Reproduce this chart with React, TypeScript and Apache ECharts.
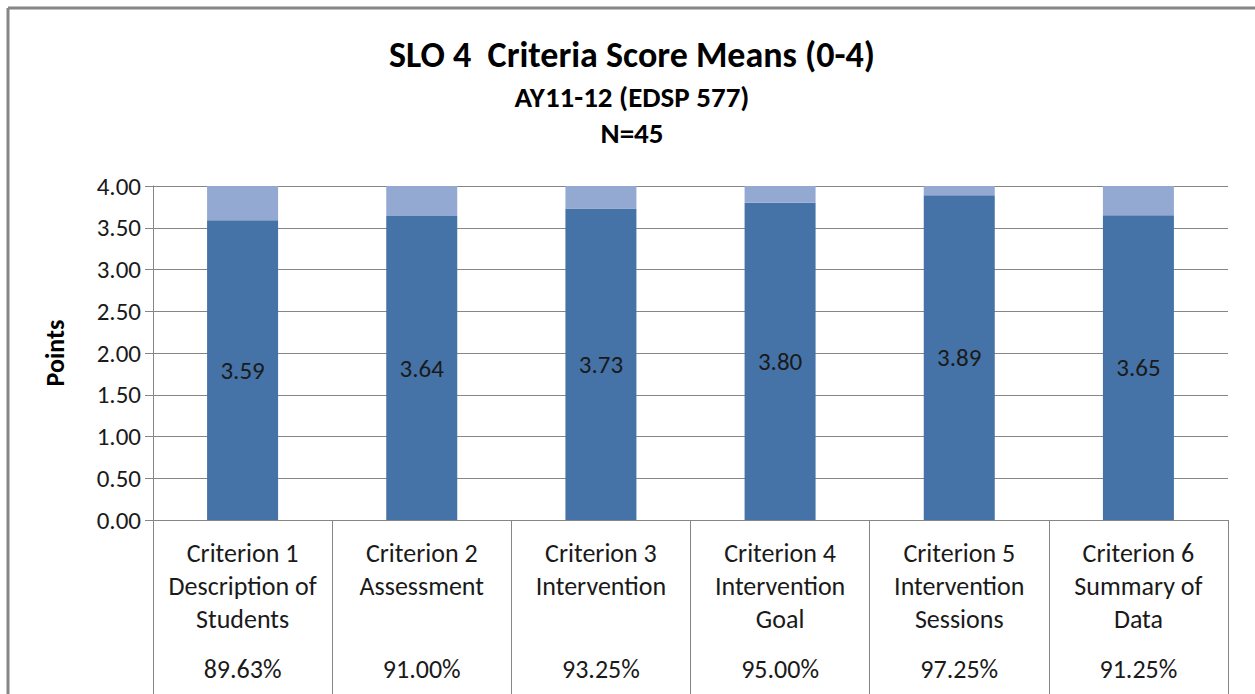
import React, { useEffect, useRef } from "react";
import * as echarts from "echarts";

const categories = [
  "Criterion 1\nDescription of\nStudents",
  "Criterion 2\nAssessment",
  "Criterion 3\nIntervention",
  "Criterion 4\nIntervention\nGoal",
  "Criterion 5\nIntervention\nSessions",
  "Criterion 6\nSummary of\nData",
];
const means = [3.59, 3.64, 3.73, 3.8, 3.89, 3.65];
const remainder = [0.41, 0.36, 0.27, 0.2, 0.11, 0.35];
const percents = ["89.63%", "91.00%", "93.25%", "95.00%", "97.25%", "91.25%"];
const titleLines = ["SLO 4  Criteria Score Means (0-4)", "AY11-12 (EDSP 577)", "N=45"];

const FONT = "Carlito, Lato, 'Open Sans', sans-serif";

export default function App() {
  const ref = useRef<HTMLDivElement>(null);
  useEffect(() => {
    if (!ref.current) return;
    const chart = echarts.init(ref.current, null, { renderer: "svg" });
    const gray = "#868686";
    chart.setOption({
      animation: false,
      backgroundColor: "#ffffff",
      textStyle: { fontFamily: FONT },
      graphic: [
        { type: "line", shape: { x1: 8, y1: 8, x2: 1255, y2: 8 }, style: { stroke: gray, lineWidth: 3 } },
        { type: "line", shape: { x1: 8, y1: 8, x2: 8, y2: 694 }, style: { stroke: gray, lineWidth: 3 } },
        {
          type: "text", x: 632, y: 55,
          style: { text: titleLines[0], font: `bold 36px ${FONT}`, fill: "#000", textAlign: "center", textVerticalAlign: "middle" },
        },
        {
          type: "text", x: 632, y: 97,
          style: { text: titleLines[1], font: `bold 29px ${FONT}`, fill: "#000", textAlign: "center", textVerticalAlign: "middle" },
        },
        {
          type: "text", x: 632, y: 133,
          style: { text: titleLines[2], font: `bold 29px ${FONT}`, fill: "#000", textAlign: "center", textVerticalAlign: "middle" },
        },
      ],
      grid: { left: 153, right: 27, top: 186, bottom: 174, containLabel: false },
      xAxis: [
        {
          type: "category",
          data: categories,
          position: "bottom",
          axisLine: { show: true, lineStyle: { color: gray, width: 1 } },
          axisTick: { show: true, alignWithLabel: false, interval: 0, length: 180, lineStyle: { color: gray } },
          axisLabel: {
            interval: 0,
            margin: 16,
            fontSize: 26,
            lineHeight: 33,
            color: "#1a1a1a",
            fontFamily: FONT,
            verticalAlign: "top",
          },
        },
        {
          type: "category",
          data: percents,
          position: "bottom",
          offset: 134,
          axisLine: { show: false },
          axisTick: { show: false },
          axisLabel: {
            interval: 0,
            margin: 0,
            fontSize: 26,
            lineHeight: 30,
            color: "#1a1a1a",
            fontFamily: FONT,
            verticalAlign: "top",
          },
        },
      ],
      yAxis: {
        type: "value",
        min: 0,
        max: 4,
        interval: 0.5,
        name: "Points",
        nameLocation: "middle",
        nameGap: 85,
        nameTextStyle: { fontSize: 26, fontWeight: "bold", color: "#000", fontFamily: FONT },
        axisLine: { show: true, lineStyle: { color: gray } },
        axisTick: { show: true, length: 8, lineStyle: { color: gray } },
        splitLine: { show: true, lineStyle: { color: gray, width: 1 } },
        axisLabel: {
          formatter: (v: number) => v.toFixed(2),
          fontSize: 25,
          color: "#1a1a1a",
          margin: 12,
          fontFamily: FONT,
        },
      },
      series: [
        {
          type: "bar",
          stack: "total",
          data: means,
          barWidth: 71,
          itemStyle: { color: "#4572A7" },
          label: {
            show: true,
            position: "inside",
            formatter: (p: any) => Number(p.value).toFixed(2),
            fontSize: 25,
            color: "#1a1a1a",
            fontFamily: FONT,
          },
        },
        {
          type: "bar",
          stack: "total",
          data: remainder,
          barWidth: 71,
          itemStyle: { color: "#94A9D2" },
        },
      ],
    });
    return () => chart.dispose();
  }, []);
  return (
    <div
      ref={ref}
      style={{ position: "fixed", left: 0, top: 0, width: 1255, height: 694 }}
    />
  );
}
